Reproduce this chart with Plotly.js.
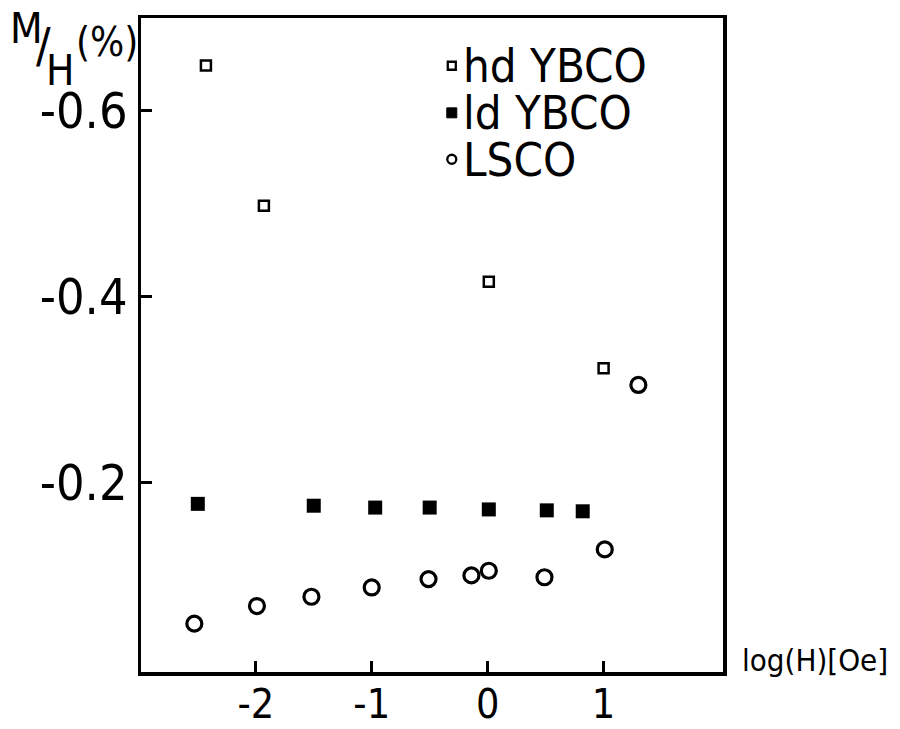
<!DOCTYPE html>
<html>
<head>
<meta charset="utf-8">
<script src="https://cdn.plot.ly/plotly-3.0.1.min.js"></script>
<style>html,body{margin:0;padding:0;background:#fff;}#chart{width:900px;height:729px;}</style>
</head>
<body>
<div id="chart"></div>
<script>
// Data
const hdYbcoLogH = [-2.43, -1.93, 0.01, 1.0];
const hdYbcoMH   = [-0.649, -0.498, -0.416, -0.323];

const ldYbcoLogH = [-2.5, -1.5, -0.97, -0.5, 0.01, 0.51, 0.82];
const ldYbcoMH   = [-0.177, -0.175, -0.173, -0.173, -0.171, -0.170, -0.169];

const lscoLogH = [-2.53, -1.99, -1.52, -1.0, -0.51, -0.14, 0.01, 0.49, 1.01, 1.30];
const lscoMH   = [-0.048, -0.067, -0.077, -0.087, -0.096, -0.100, -0.105, -0.098, -0.128, -0.305];

const seriesNames = ['hd YBCO', 'ld YBCO', 'LSCO'];

const xTickVals = [-2, -1, 0, 1];
const xTickText = ['-2', '-1', '0', '1'];
const yTickVals = [-0.6, -0.4, -0.2];
const yTickText = ['-0.6', '-0.4', '-0.2'];

const FONT = 'DejaVu Sans Condensed, sans-serif';

const traces = [
  {x: hdYbcoLogH, y: hdYbcoMH, name: seriesNames[0], type: 'scatter', mode: 'markers',
   marker: {symbol: 'square-open', size: 10, color: '#000', line: {width: 2.5, color: '#000'}}},
  {x: ldYbcoLogH, y: ldYbcoMH, name: seriesNames[1], type: 'scatter', mode: 'markers',
   marker: {symbol: 'square', size: 14, color: '#000'}},
  {x: lscoLogH, y: lscoMH, name: seriesNames[2], type: 'scatter', mode: 'markers',
   marker: {symbol: 'circle-open', size: 15, color: '#000', line: {width: 3.2, color: '#000'}}}
];

// legend keys + labels at top right of the frame
const legX = 0.534, legTextX = 0.549;
const legY = [0.927, 0.855, 0.784];
const shapes = [
  {type: 'rect', xref: 'paper', yref: 'paper', xsizemode: 'pixel', ysizemode: 'pixel',
   xanchor: legX, yanchor: legY[0], x0: -4, x1: 4, y0: -4, y1: 4,
   line: {color: '#000', width: 2.3}, fillcolor: 'rgba(0,0,0,0)'},
  {type: 'rect', xref: 'paper', yref: 'paper', xsizemode: 'pixel', ysizemode: 'pixel',
   xanchor: legX, yanchor: legY[1], x0: -5, x1: 5, y0: -5, y1: 5,
   line: {color: '#000', width: 1}, fillcolor: '#000'},
  {type: 'circle', xref: 'paper', yref: 'paper', xsizemode: 'pixel', ysizemode: 'pixel',
   xanchor: legX, yanchor: legY[2], x0: -4.5, x1: 4.5, y0: -4.5, y1: 4.5,
   line: {color: '#000', width: 2.3}, fillcolor: 'rgba(0,0,0,0)'}
];

const annotations = seriesNames.map((n, i) => ({
  xref: 'paper', yref: 'paper', x: legTextX, y: legY[i], xanchor: 'left', yanchor: 'middle',
  text: n, showarrow: false, font: {family: FONT, size: 47, color: '#000'}
}));
annotations.push(
  {xref: 'paper', yref: 'paper', x: 1.03, y: 0.018, xanchor: 'left', yanchor: 'middle',
   text: 'log(H)[Oe]', showarrow: false, font: {family: FONT, size: 31, color: '#000'}},
  {xref: 'paper', yref: 'paper', x: -0.197, y: 0.984, xanchor: 'center', yanchor: 'middle',
   text: 'M', showarrow: false, font: {family: FONT, size: 42, color: '#000'}},
  {xref: 'paper', yref: 'paper', x: -0.168, y: 0.958, xanchor: 'center', yanchor: 'middle',
   text: '/', showarrow: false, font: {family: FONT, size: 48, color: '#000'}},
  {xref: 'paper', yref: 'paper', x: -0.139, y: 0.92, xanchor: 'center', yanchor: 'middle',
   text: 'H', showarrow: false, font: {family: FONT, size: 42, color: '#000'}},
  {xref: 'paper', yref: 'paper', x: -0.058, y: 0.963, xanchor: 'center', yanchor: 'middle',
   text: '(%)', showarrow: false, font: {family: FONT, size: 40, color: '#000'}}
);

const layout = {
  width: 900, height: 729,
  paper_bgcolor: '#fff', plot_bgcolor: '#fff',
  margin: {l: 141, r: 177, t: 18, b: 57},
  font: {family: FONT, color: '#000', size: 34},
  showlegend: false,
  xaxis: {
    range: [-2.99, 2.03], showgrid: false, zeroline: false,
    showline: true, linecolor: '#000', linewidth: 3.5, mirror: true,
    ticks: 'inside', ticklen: 11, tickwidth: 3, tickcolor: '#000',
    tickvals: xTickVals, ticktext: xTickText, ticklabelstandoff: -7,
    tickfont: {family: FONT, size: 41, color: '#000'}
  },
  yaxis: {
    range: [0.004, -0.70], showgrid: false, zeroline: false,
    showline: true, linecolor: '#000', linewidth: 3.5, mirror: true,
    ticks: 'inside', ticklen: 11, tickwidth: 3, tickcolor: '#000',
    tickvals: yTickVals, ticktext: yTickText, ticklabelstandoff: 0,
    tickfont: {family: FONT, size: 50, color: '#000'}
  },
  shapes: shapes,
  annotations: annotations
};

Plotly.newPlot('chart', traces, layout, {displayModeBar: false, staticPlot: true});
</script>
</body>
</html>
